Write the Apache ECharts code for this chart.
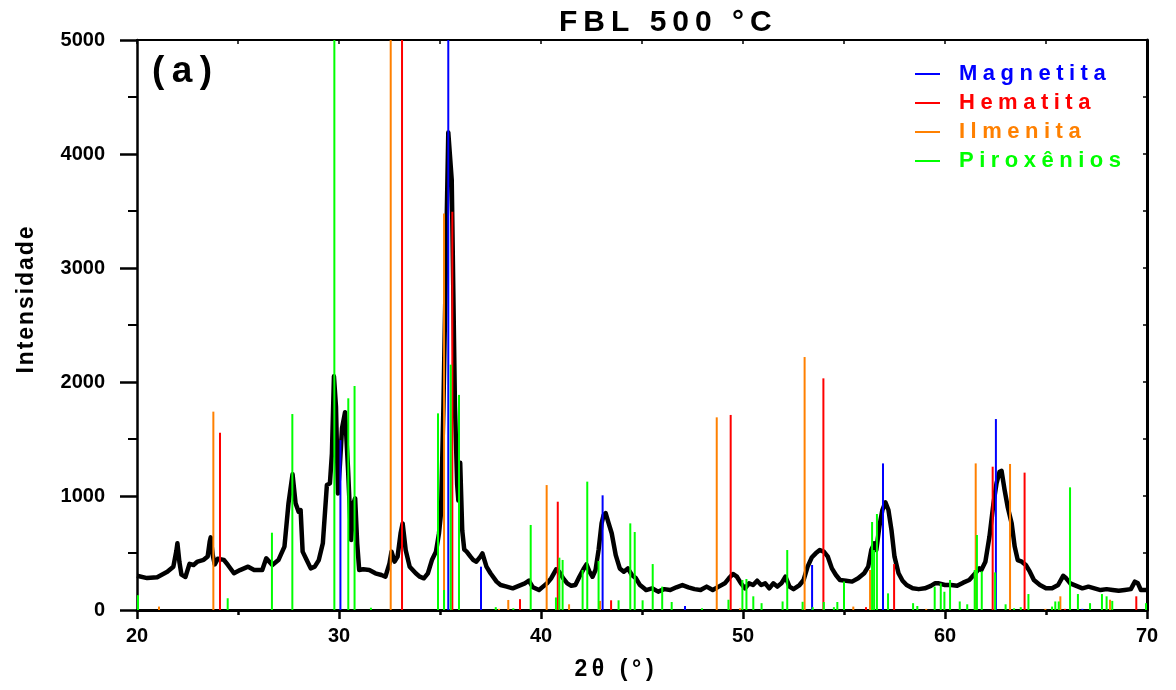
<!DOCTYPE html>
<html>
<head>
<meta charset="utf-8">
<script src="https://cdn.jsdelivr.net/npm/echarts@6/dist/echarts.min.js"></script>
<style>html,body{margin:0;padding:0;background:#fff}#c{width:1176px;height:690px}</style>
</head>
<body>
<div id="c"></div>
<script>
// Measured XRD trace (2theta, intensity)
var twoTheta = [20.0,20.5,21.0,21.5,21.8,21.95,22.0,22.1,22.2,22.4,22.6,22.8,23.0,23.3,23.5,23.6,23.65,23.75,23.85,24.0,24.3,24.5,24.8,25.1,25.5,25.8,26.2,26.4,26.7,27.0,27.3,27.5,27.7,27.85,28.0,28.1,28.2,28.4,28.6,28.8,29.0,29.2,29.4,29.55,29.65,29.75,29.85,29.95,30.05,30.15,30.3,30.45,30.6,30.72,30.8,30.9,31.0,31.2,31.5,31.8,32.1,32.3,32.5,32.6,32.75,32.9,33.05,33.15,33.3,33.5,33.8,34.0,34.2,34.4,34.6,34.8,34.95,35.05,35.17,35.3,35.41,35.5,35.58,35.66,35.74,35.85,35.91,36.0,36.05,36.1,36.2,36.32,36.5,36.65,36.8,37.0,37.1,37.3,37.5,37.8,38.0,38.3,38.6,38.9,39.2,39.4,39.6,39.9,40.1,40.3,40.5,40.75,40.9,41.1,41.3,41.5,41.7,41.9,42.1,42.25,42.4,42.55,42.7,42.85,43.0,43.1,43.2,43.35,43.5,43.7,43.9,44.1,44.3,44.5,44.7,44.9,45.1,45.2,45.5,45.8,46.1,46.4,46.7,47.0,47.3,47.6,47.9,48.2,48.5,48.8,49.1,49.3,49.5,49.7,49.9,50.1,50.3,50.5,50.7,50.9,51.1,51.3,51.5,51.7,51.9,52.1,52.3,52.5,52.8,53.0,53.2,53.4,53.6,53.8,54.0,54.2,54.4,54.6,54.8,55.1,55.4,55.7,56.0,56.2,56.35,56.5,56.6,56.75,56.9,57.05,57.2,57.35,57.5,57.7,57.9,58.1,58.4,58.7,59.0,59.3,59.5,59.7,60.0,60.3,60.6,60.9,61.2,61.5,61.7,61.8,62.0,62.2,62.4,62.55,62.7,62.8,62.95,63.1,63.3,63.45,63.6,63.8,64.0,64.2,64.4,64.7,65.0,65.3,65.6,65.85,66.0,66.2,66.5,66.8,67.1,67.4,67.7,68.0,68.3,68.6,68.9,69.2,69.4,69.55,69.7,70.0];
var intensity = [300,280,288,335,380,520,585,420,310,290,405,395,425,440,470,600,637,480,400,450,440,395,322,350,380,351,351,453,395,438,556,936,1190,936,863,877,512,438,365,380,438,585,1096,1111,1374,2050,1784,1023,1287,1594,1735,1228,614,936,980,585,351,357,351,322,307,292,409,512,424,468,673,760,526,380,322,292,278,322,438,512,673,848,1788,3113,4189,4205,3775,2781,1788,1100,960,1291,1300,700,530,512,470,438,424,468,497,380,322,249,219,205,190,212,234,257,199,175,205,234,278,357,336,278,234,212,219,292,357,400,336,292,351,526,760,833,850,760,673,482,365,336,365,307,278,219,190,175,190,161,183,175,199,219,199,183,175,205,175,205,234,278,316,292,234,190,234,219,257,219,234,190,234,205,234,292,205,183,219,263,380,460,497,526,512,468,365,307,263,257,249,278,322,380,526,585,526,731,877,945,877,702,468,322,257,219,190,183,190,212,234,234,219,219,212,240,263,322,365,351,424,643,936,1111,1213,1220,1053,906,760,556,438,424,395,336,263,219,190,190,219,300,278,234,212,190,205,190,175,183,175,168,175,183,249,234,175,175];

// Reference peak positions and intensities
var magX = [30.07,35.41,37.03,43.05,47.13,53.42,56.93,62.52,66.80];
var magI = [1490,5000,380,1006,35,395,1286,1675,10];
var hemX = [24.11,33.12,35.61,38.96,40.83,43.47,49.39,53.98,56.09,57.48,62.36,63.94,65.94,69.47];
var hemI = [1555,5000,3494,95,950,85,1711,2032,25,403,1257,1205,10,120];
var ilmX = [21.09,23.78,32.56,35.20,37.92,38.38,40.28,41.39,42.92,48.70,49.85,53.05,55.46,56.29,59.07,61.52,63.22,64.97,65.71,68.17];
var ilmI = [30,1740,5000,3477,10,88,1096,50,80,1690,15,2219,30,351,10,1286,1281,10,120,90];
var pirX = [20.05,24.49,26.68,27.69,29.77,30.46,30.77,31.58,34.90,35.20,35.53,35.94,37.76,38.63,39.49,40.74,40.91,41.07,42.06,42.29,42.85,43.84,44.42,44.64,45.03,45.53,46.0,46.47,47.97,49.28,49.97,50.17,50.51,50.92,51.96,52.19,52.95,53.45,54.0,54.5,54.67,55.0,56.39,56.49,56.63,57.18,58.42,58.63,59.49,59.79,59.97,60.25,60.73,61.10,61.47,61.58,61.82,62.48,63.0,63.42,63.75,64.13,65.3,65.46,65.63,66.19,66.58,67.18,67.77,68.0,68.28,69.95];
var pirI = [130,103,678,1719,5000,1857,1965,20,1725,175,2152,1887,25,15,746,110,459,439,351,1126,430,85,760,684,85,403,205,70,15,90,263,272,120,60,75,526,72,25,70,25,70,249,772,526,842,146,60,35,205,234,160,263,75,50,351,658,340,330,50,15,25,140,30,75,75,1076,140,60,140,120,80,60];

var xTicks = [20,30,40,50,60,70];
var phaseNames = ['Magnetita','Hematita','Ilmenita','Piroxênios'];
var phaseColors = ['#0000ff','#ff0000','#ff8000','#00ff00'];
var titleText = 'FBL 500 °C';
var panelLabel = '(a)';
var xName = '2θ (°)';
var yName = 'Intensidade';

function zip(a,b){return a.map(function(v,i){return [v,b[i]];});}
function spaced(s,ch){return s.split('').join(ch);}

var FONT = 'Arial, "Liberation Sans", Helvetica, sans-serif';
var chart = echarts.init(document.getElementById('c'), null, {renderer:'canvas'});

var phaseData = [zip(magX,magI), zip(hemX,hemI), zip(ilmX,ilmI), zip(pirX,pirI)];
var stickSeries = phaseNames.map(function(n,i){
  return {
    name:n, type:'bar', data:phaseData[i], barWidth:2, barGap:'-100%',
    itemStyle:{color:phaseColors[i]}, z:3, silent:true, animation:false
  };
});

chart.setOption({
  animation:false,
  backgroundColor:'#ffffff',
  title:{
    text: spaced(titleText,'\u2009'),
    left:554, top:3,
    textStyle:{fontFamily:FONT, fontWeight:'bold', fontSize:30, color:'#000'}
  },
  legend:{
    orient:'vertical', left:910, top:58, itemGap:7,
    icon:'rect', itemWidth:25, itemHeight:2,
    data: phaseNames.map(function(n,i){return {name:n, textStyle:{color:phaseColors[i]}};}),
    formatter:function(n){return spaced(n,'\u2005');},
    textStyle:{fontFamily:FONT, fontWeight:'bold', fontSize:22, padding:[0,0,0,14]},
    selectedMode:false
  },
  graphic:[{
    type:'text', left:152, top:53,
    style:{text:spaced(panelLabel,'\u2009'), font:'bold 37px '+FONT, fill:'#000'}
  }],
  grid:{left:137, right:29, top:40, bottom:80, containLabel:false},
  xAxis:[{
    type:'value', min:20, max:70, interval:10, position:'bottom',
    name:spaced(xName,'\u2009'), nameLocation:'middle', nameGap:48,
    nameTextStyle:{fontFamily:FONT, fontWeight:'bold', fontSize:23, color:'#000', padding:[0,56,0,0]},
    axisLine:{show:true, onZero:false, lineStyle:{color:'#000', width:3}},
    axisTick:{show:true, inside:false, length:9, lineStyle:{color:'#000', width:2.5}},
    minorTick:{show:true, splitNumber:2, length:5, lineStyle:{color:'#000', width:2.5}},
    axisLabel:{margin:16, fontFamily:FONT, fontWeight:'bold', fontSize:20, color:'#000',
      customValues: xTicks},
    splitLine:{show:false}
  },{
    type:'value', min:20, max:70, interval:5, position:'top',
    axisLine:{show:true, onZero:false, lineStyle:{color:'#000', width:2}},
    axisTick:{show:true, inside:true, length:4, lineStyle:{color:'#000', width:1.5}},
    axisLabel:{show:false}, splitLine:{show:false}
  }],
  yAxis:[{
    type:'value', min:0, max:5000, interval:1000, position:'left',
    name:spaced(yName,'\u200A'), nameLocation:'middle', nameGap:99,
    nameTextStyle:{fontFamily:FONT, fontWeight:'bold', fontSize:23, color:'#000', padding:[0,0,0,50]},
    axisLine:{show:true, onZero:false, lineStyle:{color:'#000', width:2.5}},
    axisTick:{show:true, inside:false, length:17, lineStyle:{color:'#000', width:2.5}},
    minorTick:{show:true, splitNumber:2, length:9, lineStyle:{color:'#000', width:2}},
    axisLabel:{margin:32, fontFamily:FONT, fontWeight:'bold', fontSize:20, color:'#000',
      formatter:function(v){return String(v);}},
    splitLine:{show:false}
  },{
    type:'value', min:0, max:5000, interval:500, position:'right',
    axisLine:{show:true, onZero:false, lineStyle:{color:'#000', width:3}},
    axisTick:{show:true, inside:true, length:4, lineStyle:{color:'#000', width:1.5}},
    axisLabel:{show:false}, splitLine:{show:false}
  }],
  series:[{
    name:'FBL 500', type:'line', data:zip(twoTheta,intensity),
    showSymbol:false, symbol:'none', z:2, silent:true,
    lineStyle:{color:'#000', width:4.5, join:'round'}
  }].concat(stickSeries)
});
</script>
</body>
</html>
